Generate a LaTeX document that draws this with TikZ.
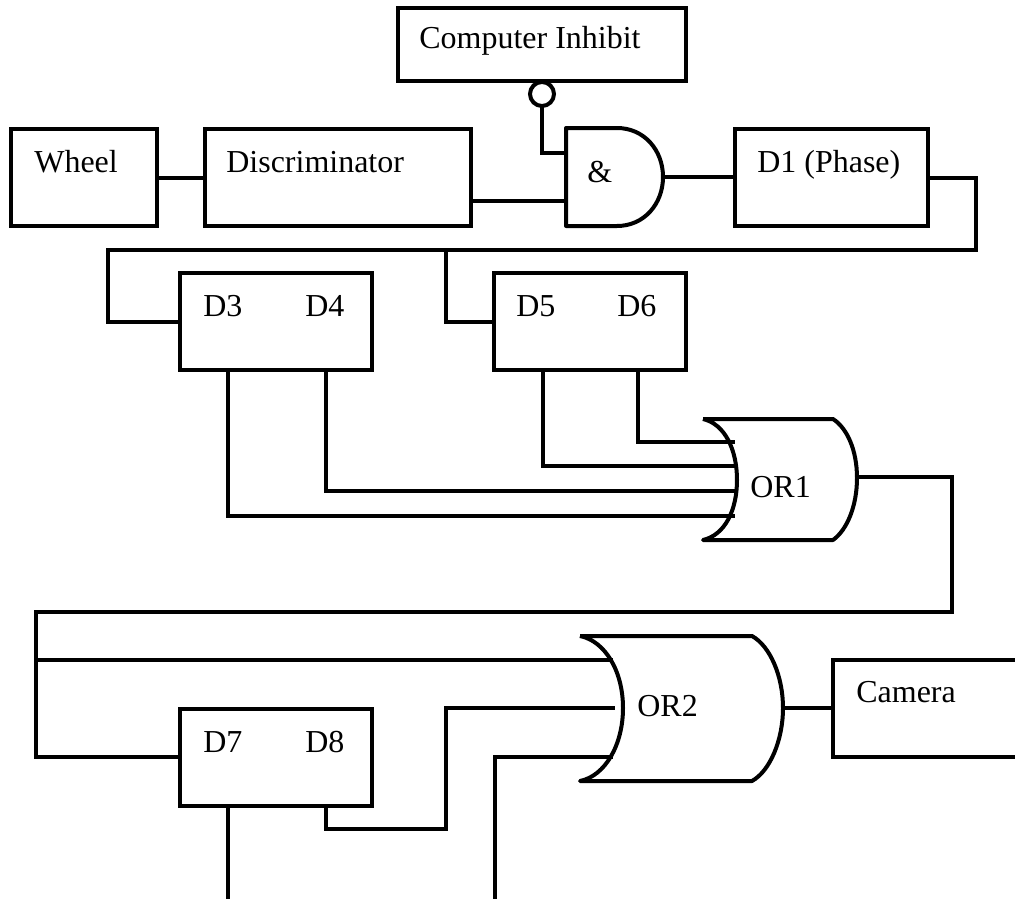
\documentclass[tikz,border=0pt]{standalone}
\usepackage{fontspec}
\setmainfont{Liberation Serif}
\newlength{\px}
\setlength{\px}{0.02cm}
\tikzset{
    wire/.style={line width=4\px, line join=miter},
    blok/.style={draw, line width=4\px, outer sep=0pt, inner sep=0pt},
    txt/.style={anchor=base west, inner sep=0pt, font=\fontsize{18.2pt}{22pt}\selectfont}
}
\begin{document}
\begin{tikzpicture}[x=0.02cm, y=-0.02cm]
    \clip (0,0) rectangle (1015,899);
    % boxes
    \node [blok, minimum width=288\px, minimum height=73\px] (inhibit) at (542,44.5) {};
    \node [blok, minimum width=146\px, minimum height=97\px] (wheel) at (83.5,177.5) {};
    \node [blok, minimum width=266\px, minimum height=97\px] (disc) at (337.5,177.5) {};
    \node [blok, minimum width=193\px, minimum height=97\px] (dphase) at (831.5,177.5) {};
    \node [blok, minimum width=192\px, minimum height=97\px] (dthree) at (276,321.5) {};
    \node [blok, minimum width=192\px, minimum height=97\px] (dfive) at (590,321.5) {};
    \node [blok, minimum width=192\px, minimum height=97\px] (dseven) at (276,757) {};
    \node [blok, minimum width=240\px, minimum height=97\px] (camera) at (953,708) {};
    % gates
    \draw [wire, line join=round] (566,128) -- (617,128) .. controls (644,128) and (663,150) .. (663,177)
        .. controls (663,204) and (644,226) .. (617,226) -- (566,226) -- cycle;
    \draw [wire, line join=round] (703,419) -- (833,419) .. controls (847,428) and (857,450) .. (857,478)
        .. controls (857,506) and (847,530) .. (833,540) -- (703,540)
        .. controls (725,535) and (737,510) .. (737,480) .. controls (737,450) and (725,424) .. (703,419);
    \draw [wire, line join=round] (580,636) -- (752,636) .. controls (770,646) and (783,676) .. (783,708)
        .. controls (783,740) and (770,771) .. (752,781) -- (580,781)
        .. controls (605,776) and (623,745) .. (623,708) .. controls (623,671) and (605,641) .. (580,636);
    % pins
    \coordinate (andA) at (566,153);
    \coordinate (andB) at (566,201);
    \coordinate (andOut) at (663,177);
    \coordinate (orOneA) at (735,442);
    \coordinate (orOneB) at (735,466);
    \coordinate (orOneC) at (735,491);
    \coordinate (orOneD) at (735,516);
    \coordinate (orOneOut) at (857,477);
    \coordinate (orTwoA) at (613,660);
    \coordinate (orTwoB) at (615,708);
    \coordinate (orTwoC) at (613,757);
    \coordinate (orTwoOut) at (783,708);
    \coordinate (dthreeS) at (228,370);
    \coordinate (dfourS) at (326,370);
    \coordinate (dfiveS) at (543,370);
    \coordinate (dsixS) at (638,370);
    \coordinate (dsevenS) at (228,805.5);
    \coordinate (deightS) at (326,805.5);
    \coordinate (busTee) at (446,249.5);
    \coordinate (loopTee) at (36,660);
    \coordinate (endA) at (228,899);
    \coordinate (endB) at (495,899);
    % connectors
    \draw [wire] (wheel) -- (disc);
    \draw [wire] (disc.east |- andB) -- (andB);
    \draw [wire] (andOut) -- (dphase.west |- andOut);
    \node [draw, circle, fill=white, line width=4\px, minimum size=24\px, inner sep=0pt, outer sep=0pt] (bubble) at (542,94) {};
    \draw [wire] (bubble.south) -- (542,153) -- (andA);
    \draw [wire] (dphase.east) -- (976,177.5) -- (976,249.5) -- (108,249.5) -- (108,321.5) -- (dthree.west);
    \draw [wire] (busTee) -- (446,321.5) -- (dfive.west);
    \draw [wire] (dthreeS) -- (228,516) -- (orOneD);
    \draw [wire] (dfourS) -- (326,491) -- (orOneC);
    \draw [wire] (dfiveS) -- (543,466) -- (orOneB);
    \draw [wire] (dsixS) -- (638,442) -- (orOneA);
    \draw [wire] (orOneOut) -- (952,477) -- (952,612) -- (36,612) -- (36,757) -- (dseven.west);
    \draw [wire] (loopTee) -- (orTwoA);
    \draw [wire] (deightS) -- (326,829) -- (446,829) -- (446,708) -- (orTwoB);
    \draw [wire] (endB) -- (495,757) -- (orTwoC);
    \draw [wire] (dsevenS) -- (endA);
    \draw [wire] (orTwoOut) -- (camera.west);
    % labels
    \node [txt] (tinhibit) at (419,49) {Computer Inhibit};
    \node [txt] (twheel) at (34,172) {Wheel};
    \node [txt] (tdisc) at (226,172) {Discriminator};
    \node [txt] (tand) at (587,182) {\&};
    \node [txt] (tphase) at (757,172) {D1 (Phase)};
    \node [txt] (tdthree) at (203,316) {D3};
    \node [txt] (tdfour) at (305,316) {D4};
    \node [txt] (tdfive) at (516,316) {D5};
    \node [txt] (tdsix) at (617,316) {D6};
    \node [txt] (torone) at (750,497) {OR1};
    \node [txt] (tortwo) at (637,716) {OR2};
    \node [txt] (tcamera) at (856,702) {Camera};
    \node [txt] (tdseven) at (203,752) {D7};
    \node [txt] (tdeight) at (305,752) {D8};
\end{tikzpicture}
\end{document}
